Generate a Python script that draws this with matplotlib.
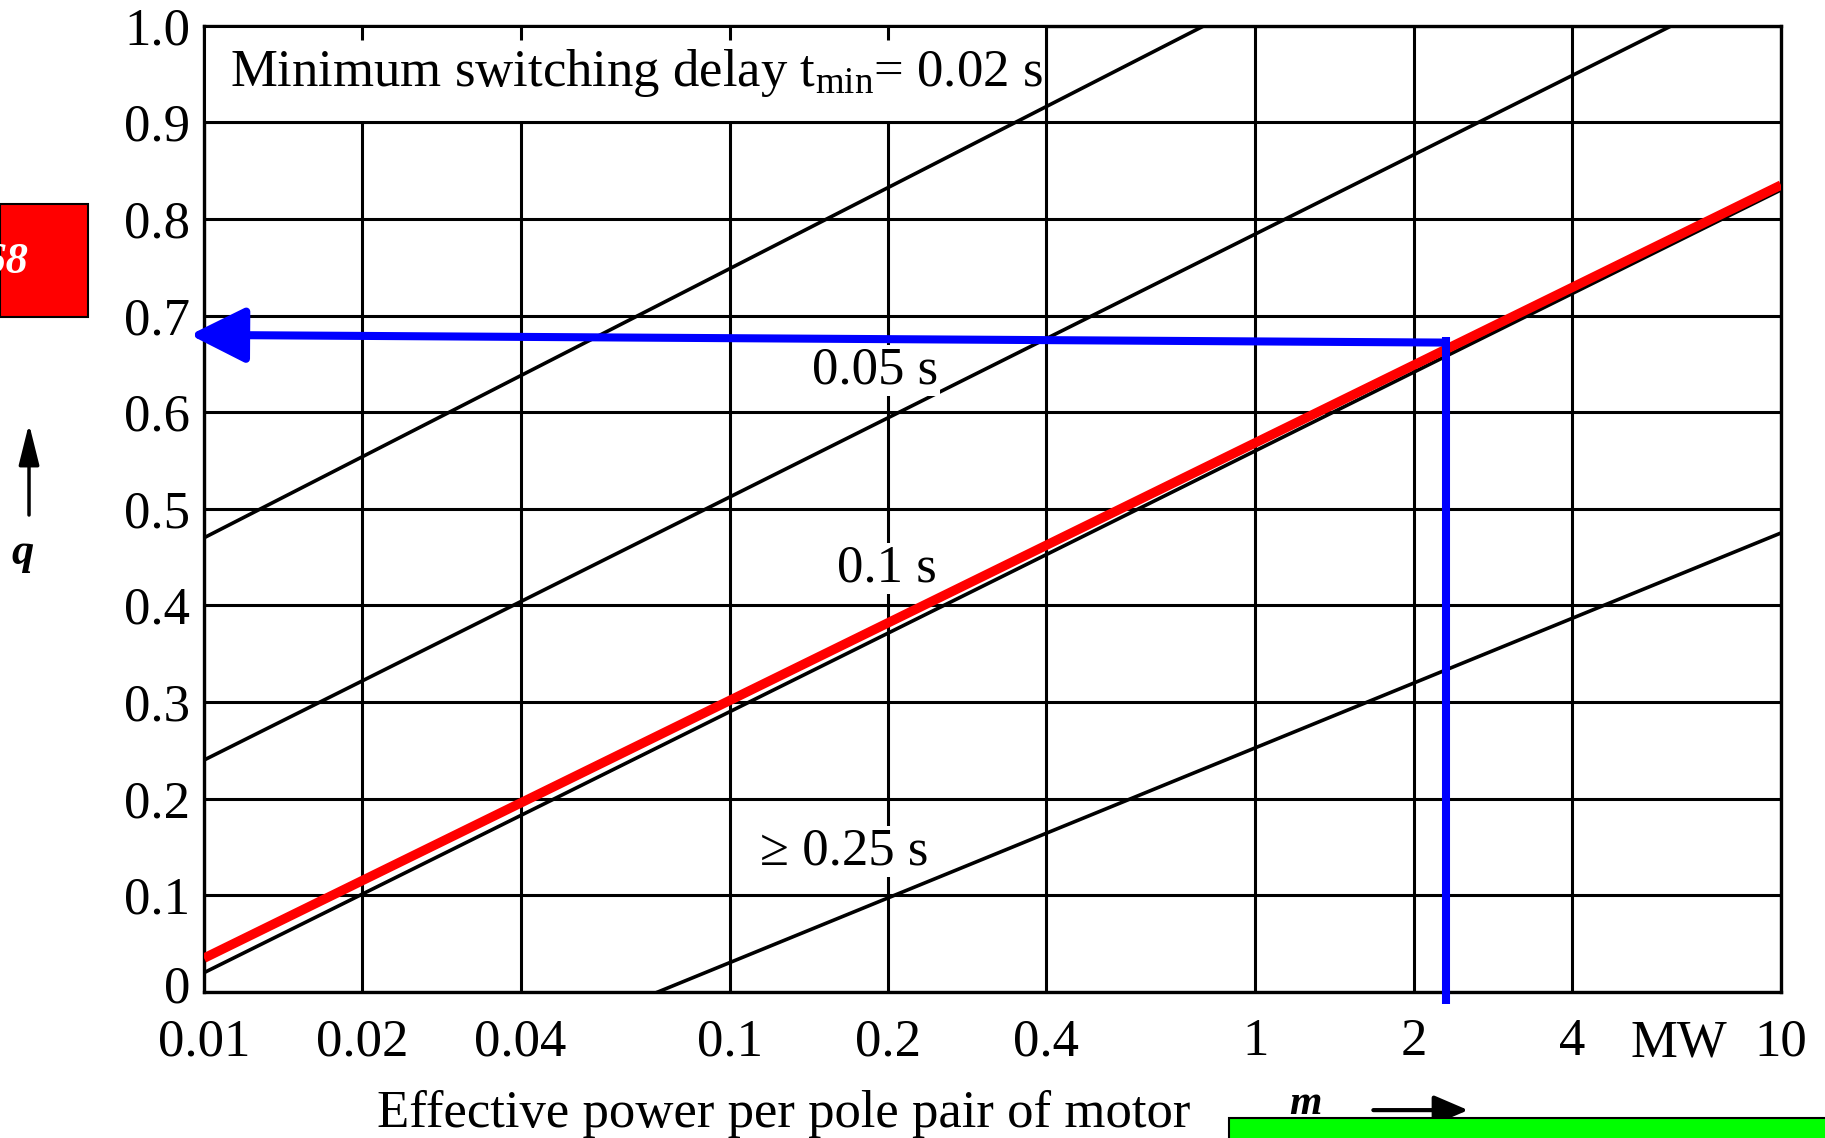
import matplotlib
matplotlib.use("Agg")
import matplotlib.pyplot as plt
from matplotlib.patches import Rectangle, FancyArrowPatch
from matplotlib.transforms import ScaledTranslation

plt.rcParams['font.family'] = ['Liberation Serif', 'DejaVu Serif']
plt.rcParams['mathtext.fontset'] = 'custom'
plt.rcParams['mathtext.rm'] = 'Liberation Serif'
plt.rcParams['mathtext.it'] = 'Liberation Serif:italic'

## axis ticks
x_ticks = [0.01, 0.02, 0.04, 0.1, 0.2, 0.4, 1, 2, 4, 10]
x_tick_labels = ['0.01', '0.02', '0.04', '0.1', '0.2', '0.4', '1', '2', '4', '10']
y_ticks = [0, 0.1, 0.2, 0.3, 0.4, 0.5, 0.6, 0.7, 0.8, 0.9, 1.0]
y_tick_labels = ['0', '0.1', '0.2', '0.3', '0.4', '0.5', '0.6', '0.7', '0.8', '0.9', '1.0']
box_ticks = [0.02, 0.04, 0.1, 0.2]   # short ticks above the text box

## delay curves (power per pole pair in MW -> q)
p_002 = [0.01, 0.8]
q_002 = [0.47, 1.0]
p_005 = [0.01, 6.2]
q_005 = [0.24, 1.0]
p_01 = [0.01, 10]
q_01 = [0.02, 0.83]
p_025 = [0.073, 10]
q_025 = [0.0, 0.475]

# red highlight drawn over the 0.1 s curve
p_red = [0.01, 10]
q_red = [0.035, 0.835]

# blue reading: vertical at P = 2.3 MW, horizontal arrow to q axis
p_read = [2.3, 2.3]
q_read = [-0.012, 0.678]
p_arrow = [2.3, 0.0094]
q_arrow = [0.672, 0.68]

FS = 38

fig = plt.figure(figsize=(18.25, 11.38), dpi=100)
ax = fig.add_axes([0.1118, 0.1283, 0.8641, 0.8492])
ax.set_xscale('log')
ax.set_xlim(0.01, 10)
ax.set_ylim(0, 1.0)

ax.set_xticks(x_ticks)
ax.set_xticklabels(x_tick_labels)
ax.xaxis.set_minor_locator(plt.NullLocator())
ax.set_yticks(y_ticks)
ax.set_yticklabels(y_tick_labels)
ax.tick_params(axis='both', length=0, labelsize=FS)
ax.tick_params(axis='x', pad=19)
ax.tick_params(axis='y', pad=10)

# the "0" sits a little higher on the scan
lbl0 = ax.get_yticklabels()[0]
lbl0.set_transform(lbl0.get_transform() + ScaledTranslation(0, 6 / 72, fig.dpi_scale_trans))

ax.grid(True, color='black', linewidth=2.2)
for s in ax.spines.values():
    s.set_linewidth(2.4)

# text box in the top-left corner hides the grid there
ax.add_patch(Rectangle((0.01, 0.9), 0.4 - 0.01, 0.1, facecolor='white',
                       edgecolor='black', linewidth=2.2, zorder=2.6))
ax.vlines(box_ticks, 0.985, 1.0, color='black', linewidth=2.2, zorder=2.7)
ax.text(0.0112, 0.951, r'Minimum switching delay $\mathrm{t_{min}}$= 0.02 s',
        fontsize=FS, va='center', ha='left', zorder=3)

# curves
for p, q in [(p_002, q_002), (p_005, q_005), (p_01, q_01), (p_025, q_025)]:
    ax.plot(p, q, color='black', linewidth=2.6, zorder=3)
ax.plot(p_red, q_red, color='#ff0000', linewidth=6.8, solid_capstyle='butt', zorder=4)

lab = dict(fontsize=FS, ha='center', va='center', zorder=3.5,
           bbox=dict(facecolor='white', edgecolor='none', pad=1))
ax.text(0.189, 0.643, '0.05 s', **lab)
ax.text(0.199, 0.438, '0.1 s', **lab)
ax.text(0.165, 0.145, '\u2265 0.25 s', **lab)

# blue reading lines
ax.plot(p_read, q_read, color='#0000ff', linewidth=5.8, solid_capstyle='butt',
        zorder=5, clip_on=False)
ax.annotate('', xy=(p_arrow[1], q_arrow[1]), xytext=(p_arrow[0], q_arrow[0]),
            arrowprops=dict(arrowstyle='-|>,head_length=1.0,head_width=0.5',
                            color='#0000ff', linewidth=5.8, mutation_scale=34,
                            shrinkA=0, shrinkB=0),
            annotation_clip=False, zorder=5)

ax.text(6.4, -0.053, 'MW', fontsize=FS, ha='center', va='center', clip_on=False)

# axis labels
fig.text(0.4296, 0.021, 'Effective power per pole pair of motor', fontsize=FS,
         ha='center', va='center')
fig.text(0.7155, 0.0135, 'm', fontsize=30, style='italic', fontweight='bold',
         ha='center', va='bottom')
fig.add_artist(FancyArrowPatch(
    (0.751, 0.0245), (0.806, 0.0245), transform=fig.transFigure,
    arrowstyle='-|>,head_length=0.7,head_width=0.3', mutation_scale=30,
    color='black', linewidth=3))
fig.add_artist(FancyArrowPatch(
    (0.0159, 0.545), (0.0159, 0.630), transform=fig.transFigure,
    arrowstyle='-|>,head_length=1.0,head_width=0.25', mutation_scale=25,
    color='black', linewidth=2.5))
fig.text(0.0126, 0.514, 'q', fontsize=32, style='italic', fontweight='bold',
         ha='center', va='center')

# overlay boxes from the annotated scan
fig.add_artist(Rectangle((0.0, 0.7214), 0.0482, 0.0993, transform=fig.transFigure,
                         facecolor='#ff0000', edgecolor='black', linewidth=1.5, zorder=10))
fig.text(0.0155, 0.770, '0.68', fontsize=32, style='italic', fontweight='bold',
         color='white', ha='right', va='center', zorder=11)
fig.add_artist(Rectangle((0.6735, -0.01), 0.34, 0.028, transform=fig.transFigure,
                         facecolor='#00ff00', edgecolor='black', linewidth=1.5, zorder=10))

fig.savefig('out.png', dpi=100)
